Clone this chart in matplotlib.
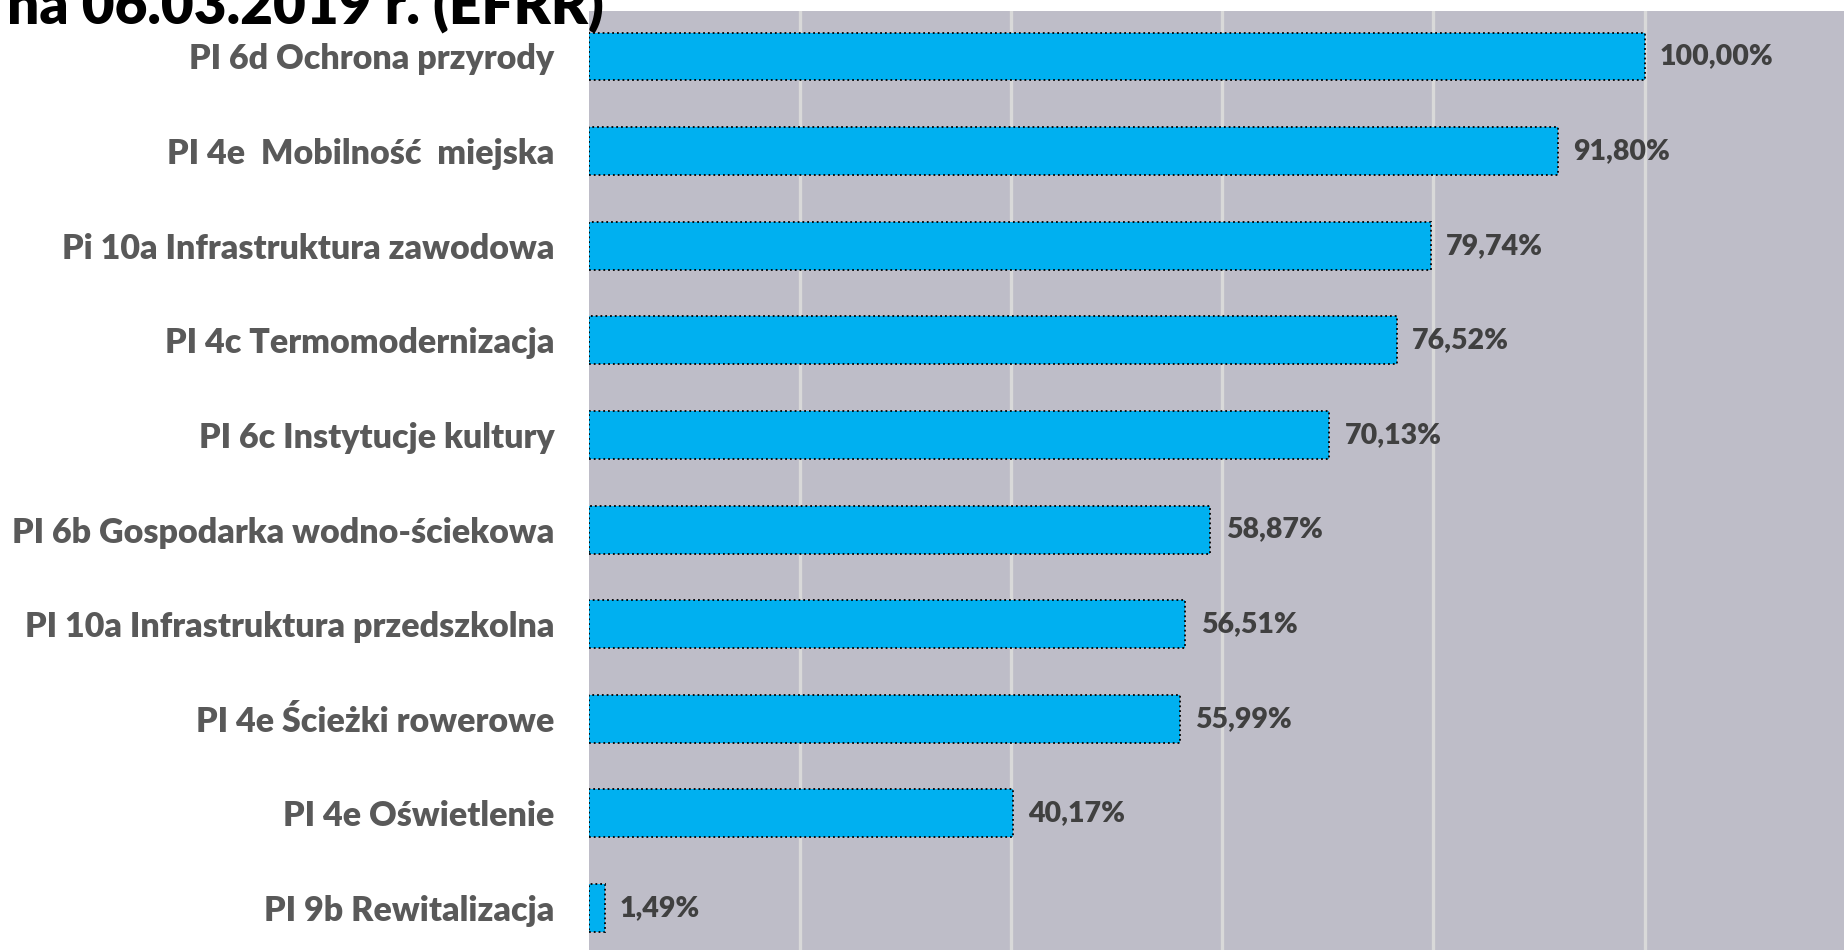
import matplotlib
matplotlib.use("Agg")
import matplotlib.pyplot as plt

# data, top to bottom as in the chart
labels = [
    "PI 6d Ochrona przyrody",
    "PI 4e  Mobilność  miejska",
    "Pi 10a Infrastruktura zawodowa",
    "PI 4c Termomodernizacja",
    "PI 6c Instytucje kultury",
    "PI 6b Gospodarka wodno-ściekowa",
    "PI 10a Infrastruktura przedszkolna",
    "PI 4e Ścieżki rowerowe",
    "PI 4e Oświetlenie",
    "PI 9b Rewitalizacja",
]
values = [100.00, 91.80, 79.74, 76.52, 70.13, 58.87, 56.51, 55.99, 40.17, 1.49]
title = "na 06.03.2019 r. (EFRR)"

BG = "#BEBDC8"
BAR = "#00B0F0"
GRID = "#D9D9D9"

plt.rcParams["font.family"] = ["Lato", "DejaVu Sans"]

fig = plt.figure(figsize=(18.44, 9.5), dpi=100)
ax = fig.add_axes([589 / 1844, 0, 1 - 589 / 1844, (950 - 10.6) / 950])
ax.set_facecolor(BG)

# bottom-up order for barh
ys = list(range(len(labels)))[::-1]
ax.barh(ys, values, height=0.507, color=BAR, edgecolor="black",
        linestyle=":", linewidth=1.3, zorder=3)

for y, v in zip(ys, values):
    ax.annotate(f"{v:.2f}%".replace(".", ","), xy=(v, y), xytext=(11, 0),
                textcoords="offset points", va="center", ha="left",
                fontsize=20.5, fontweight="heavy", color="#404040", zorder=4)

ax.set_xlim(0, 118.9)
ax.set_ylim(-0.444, 9.485)
ax.set_xticks([20, 40, 60, 80, 100])
ax.set_xticklabels([])
ax.grid(axis="x", color=GRID, linewidth=2.4, zorder=1)
ax.tick_params(axis="x", length=0)

ax.set_yticks(ys)
ax.set_yticklabels(labels, fontsize=24.5, fontweight="heavy", color="#595959")
ax.tick_params(axis="y", length=0, pad=25)

for s in ax.spines.values():
    s.set_visible(False)

# title, cut off at the top-left like in the source slide
t = fig.text(604 / 1844, 1 - 23.5 / 950, title, ha="right", va="baseline",
             fontsize=50, fontweight="heavy", color="black")
r = fig.canvas.get_renderer()
probe = fig.text(0, 0, "06.03.2019 r. (EFRR)", fontsize=50, fontweight="heavy")
w = probe.get_window_extent(renderer=r).width
probe.remove()
t.set_fontsize(50 * 523 / w)

fig.savefig("out.png", dpi=100, facecolor="white")
